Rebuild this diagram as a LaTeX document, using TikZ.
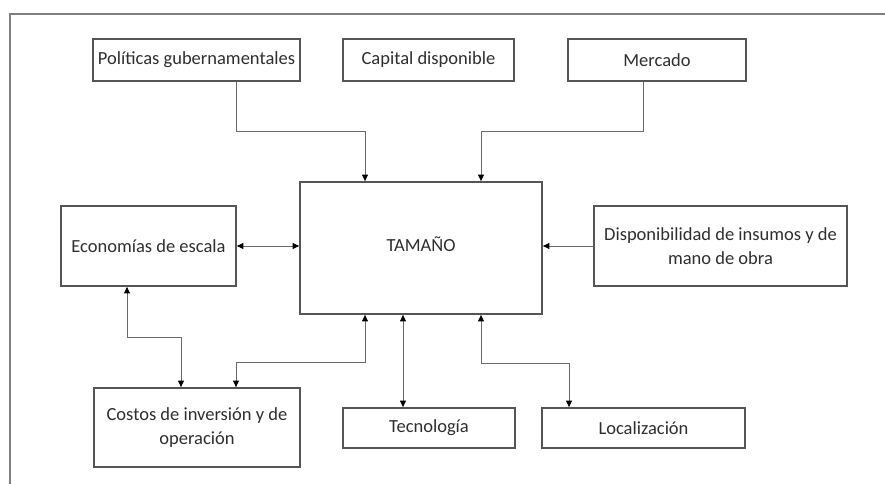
\documentclass[tikz,border=0pt]{standalone}
\usepackage{fontspec}
\setmainfont{Carlito}
\usetikzlibrary{arrows.meta,calc}
\definecolor{boxgray}{HTML}{555555}
\definecolor{txtgray}{HTML}{2E2E2E}
\definecolor{linegray}{HTML}{6A6A6A}
\begin{document}
\begin{tikzpicture}[x=1pt,y=1pt,
  box/.style={draw=boxgray,line width=1.8pt,inner sep=0pt,align=center,
    text=txtgray,font=\fontsize{18.5}{24}\selectfont},
  tip/.style={Triangle[length=6.5pt,width=6pt,fill=black,color=black]},
  link/.style={draw=linegray,line width=0.9pt,-{Triangle[length=6.5pt,width=6pt,color=black]}},
  dlink/.style={draw=linegray,line width=0.9pt,
    {Triangle[length=6.5pt,width=6pt,color=black]}-{Triangle[length=6.5pt,width=6pt,color=black]}}]
  \useasboundingbox (0,0) rectangle (885,-484);
  % frame
  \draw[draw=gray,line width=1.2pt] (885,-14) -- (10,-14) -- (10,-484);

  % boxes
  \node[box,minimum width=207,minimum height=42] (pol) at (196.5,-60) {Políticas gubernamentales};
  \node[box,minimum width=171,minimum height=42] (cap) at (428.5,-60) {Capital disponible};
  \node[box,minimum width=178,minimum height=42] (mer) at (657,-60) {Mercado};
  \node[box,minimum width=242,minimum height=132] (tam) at (421,-248) {\raisebox{8pt}{TAMAÑO}};
  \node[box,minimum width=175,minimum height=80] (eco) at (148.5,-246) {Economías de escala};
  \node[box,minimum width=253,minimum height=80] (dis) at (720.5,-246) {Disponibilidad de insumos y de\\mano de obra};
  \node[box,minimum width=206,minimum height=79] (cos) at (197,-427.5) {Costos de inversión y de\\operación};
  \node[box,minimum width=172,minimum height=40] (tec) at (429,-428) {Tecnología};
  \node[box,minimum width=203,minimum height=40] (loc) at (643.5,-428) {Localización};

  % connectors
  \draw[link] ([xshift=39.5]pol.south) -- ++(0,-50) -| ([xshift=-56]tam.north);
  \draw[link] ([xshift=-14]mer.south) -- ++(0,-50) -| ([xshift=60]tam.north);
  \draw[dlink] (eco.east) -- (eco.east -| tam.west);
  \draw[link] (dis.west) -- (dis.west -| tam.east);
  \draw[dlink] ([xshift=-21.5]eco.south) -- ++(0,-51) -| ([xshift=-16]cos.north);
  \draw[dlink] ([xshift=39]cos.north) -- ++(0,25) -| ([xshift=-56]tam.south);
  \draw[dlink] ([xshift=-18]tam.south) -- ([xshift=-18]tam.south |- tec.north);
  \draw[dlink] ([xshift=60]tam.south) -- ++(0,-49) -| ([xshift=-74.5]loc.north);
\end{tikzpicture}
\end{document}
